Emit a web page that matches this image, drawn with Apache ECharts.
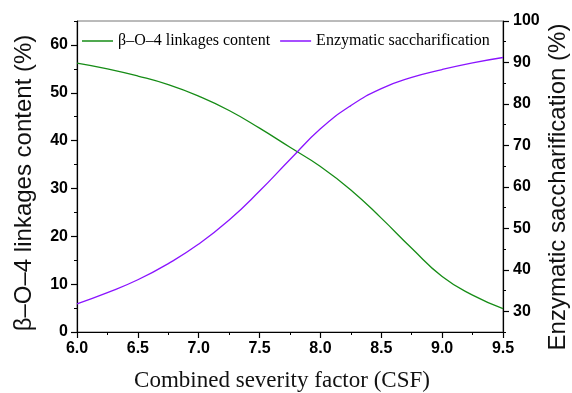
<!DOCTYPE html>
<html>
<head>
<meta charset="utf-8">
<script src="https://cdn.jsdelivr.net/npm/echarts@6/dist/echarts.min.js"></script>
<style>
  html, body { margin: 0; padding: 0; background: #fff; }
  #chart { width: 572px; height: 393px; }
</style>
</head>
<body>
<div id="chart"></div>
<script>
// Combined severity factor (x)
const csf = [6.0, 6.25, 6.5, 6.75, 7.0, 7.25, 7.5, 7.75, 8.0, 8.25, 8.5, 8.75, 9.0, 9.25, 9.5];
// β-O-4 linkages content (%), left axis
const betaO4 = [56.2, 55.0, 53.5, 51.7, 49.3, 46.3, 42.6, 38.6, 34.6, 29.7, 23.8, 17.5, 11.6, 7.7, 4.9];
// Enzymatic saccharification (%), right axis
const saccharification = [31.8, 34.5, 37.6, 41.5, 46.2, 52.0, 59.0, 66.6, 74.0, 79.6, 83.7, 86.4, 88.3, 89.9, 91.2];

// Axis tick / label values
const xTicks = [6.0, 6.5, 7.0, 7.5, 8.0, 8.5, 9.0, 9.5];
const leftMajor = [0, 10, 20, 30, 40, 50, 60];
const leftMinor = [5, 15, 25, 35, 45, 55, 65];
const rightMajor = [30, 40, 50, 60, 70, 80, 90, 100];
const rightMinor = [25, 35, 45, 55, 65, 75, 85, 95];

const pair = (xs, ys) => xs.map((x, i) => [x, ys[i]]);

const tickFont = { fontFamily: 'Liberation Sans', fontWeight: 'bold', fontSize: 16, color: '#000' };
const axisLine = { show: true, lineStyle: { color: '#000', width: 1.2 } };

const chart = echarts.init(document.getElementById('chart'), null, { renderer: 'canvas' });

chart.setOption({
  animation: false,
  backgroundColor: '#fff',
  grid: { left: 77, right: 69, top: 21, bottom: 61, show: true, borderColor: '#777', borderWidth: 1 },
  legend: {
    left: 82, top: 33, padding: 0,
    icon: 'rect', itemWidth: 31, itemHeight: 1.5, itemGap: 10,
    textStyle: { fontFamily: 'Liberation Serif', fontSize: 16, color: '#000' },
    data: ['β–O–4 linkages content', 'Enzymatic saccharification']
  },
  xAxis: {
    type: 'value', min: 6, max: 9.5, interval: 0.5,
    axisLine: axisLine,
    axisTick: { show: true, length: 6, lineStyle: { color: '#000', width: 1.2 } },
    minorTick: { show: true, splitNumber: 2, length: 3, lineStyle: { color: '#000', width: 1 } },
    axisLabel: Object.assign({ margin: 9, formatter: v => v.toFixed(1), customValues: xTicks }, tickFont),
    splitLine: { show: false }
  },
  yAxis: [
    {
      type: 'value', position: 'left', min: 0, max: 65, interval: 5,
      axisLine: axisLine,
      axisTick: { show: true, length: 3, customValues: leftMinor, lineStyle: { color: '#000', width: 1 } },
      axisLabel: Object.assign({ margin: 9, customValues: leftMajor }, tickFont),
      splitLine: { show: false }
    },
    {
      type: 'value', position: 'left', min: 0, max: 65, interval: 5,
      axisLine: { show: false },
      axisTick: { show: true, length: 6, customValues: leftMajor, lineStyle: { color: '#000', width: 1.2 } },
      axisLabel: { show: false },
      splitLine: { show: false }
    },
    {
      type: 'value', position: 'right', min: 25, max: 100, interval: 5,
      axisLine: axisLine,
      axisTick: { show: true, length: 3, customValues: rightMinor, lineStyle: { color: '#000', width: 1 } },
      axisLabel: Object.assign({ margin: 10, customValues: rightMajor }, tickFont),
      splitLine: { show: false }
    },
    {
      type: 'value', position: 'right', min: 25, max: 100, interval: 5,
      axisLine: { show: false },
      axisTick: { show: true, length: 6, customValues: rightMajor, lineStyle: { color: '#000', width: 1.2 } },
      axisLabel: { show: false },
      splitLine: { show: false }
    }
  ],
  series: [
    {
      name: 'β–O–4 linkages content', type: 'line', yAxisIndex: 0,
      data: pair(csf, betaO4), smooth: true, showSymbol: false,
      lineStyle: { color: '#168c16', width: 1.3 }, itemStyle: { color: '#168c16' }
    },
    {
      name: 'Enzymatic saccharification', type: 'line', yAxisIndex: 2,
      data: pair(csf, saccharification), smooth: true, showSymbol: false,
      lineStyle: { color: '#8a14ff', width: 1.3 }, itemStyle: { color: '#8a14ff' }
    }
  ],
  graphic: [
    {
      type: 'text', x: 24, y: 183, rotation: Math.PI / 2,
      style: { text: 'β–O–4 linkages content (%)', font: '24px "Liberation Sans"', fill: '#111', align: 'center', verticalAlign: 'middle' }
    },
    {
      type: 'text', x: 558, y: 187, rotation: Math.PI / 2,
      style: { text: 'Enzymatic saccharification (%)', font: '24px "Liberation Sans"', fill: '#111', align: 'center', verticalAlign: 'middle' }
    },
    {
      type: 'text', x: 282, y: 381,
      style: { text: 'Combined severity factor (CSF)', font: '23px "Liberation Serif"', fill: '#111', align: 'center', verticalAlign: 'middle' }
    }
  ]
});
</script>
</body>
</html>
